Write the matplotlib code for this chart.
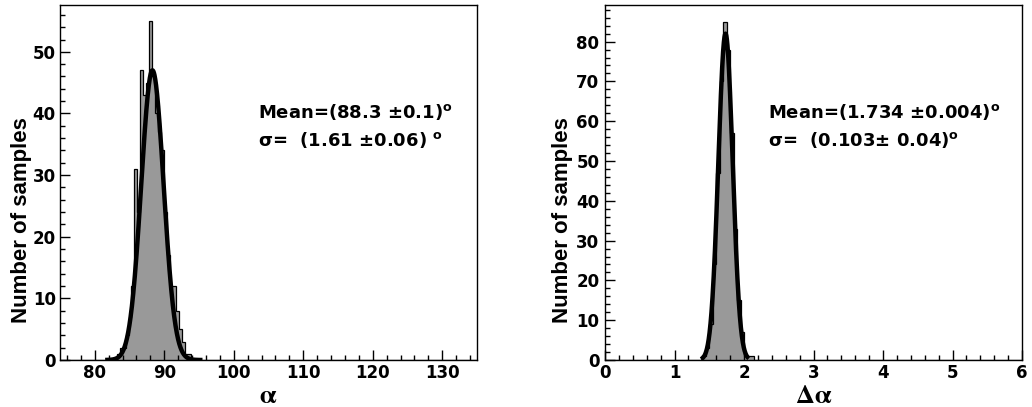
import numpy as np
import matplotlib
matplotlib.use("Agg")
import matplotlib.pyplot as plt
from matplotlib.ticker import MultipleLocator

# ---------------- data ----------------
# left panel: alpha histogram (140 bins over 75..135)
alpha_range = (75.0, 135.0)
alpha_nbins = 140
alpha_first_bin = 19
alpha_counts = [1, 2, 2, 4, 7, 12, 31, 24, 47, 43, 45, 55, 46, 40, 37, 34,
                24, 17, 12, 12, 8, 5, 3, 1, 1]
alpha_fit = dict(mean=88.3, sigma=1.61, amp=47.0, lo=81.5, hi=95.5)
alpha_text = ["Mean=(88.3 \u00b10.1)$^{\\mathrm{o}}$",
              "\u03c3=  (1.61 \u00b10.06) $^{\\mathrm{o}}$"]

# right panel: delta-alpha histogram (120 bins over 0..6)
dalpha_range = (0.0, 6.0)
dalpha_nbins = 120
dalpha_first_bin = 28
dalpha_counts = [1, 3, 9, 24, 47, 70, 85, 78, 57, 33, 15, 7, 1, 1, 1]
dalpha_fit = dict(mean=1.734, sigma=0.103, amp=82.0, lo=1.38, hi=2.07)
dalpha_text = ["Mean=(1.734 \u00b10.004)$^{\\mathrm{o}}$",
               "\u03c3=  (0.103\u00b1 0.04)$^{\\mathrm{o}}$"]

ylabel = "Number of samples"

# ---------------- style ----------------
plt.rcParams["font.family"] = ["DejaVu Sans"]
plt.rcParams["font.weight"] = "bold"
plt.rcParams["mathtext.fontset"] = "custom"
plt.rcParams["mathtext.rm"] = "DejaVu Sans:bold"
plt.rcParams["mathtext.it"] = "DejaVu Sans:bold"
plt.rcParams["mathtext.bf"] = "DejaVu Sans:bold"

W, H = 1032, 407
fig = plt.figure(figsize=(W / 100, H / 100), dpi=100)
axL = fig.add_axes([60 / W, 47 / H, 417 / W, 355 / H])
axR = fig.add_axes([605 / W, 47 / H, 417 / W, 355 / H])


def draw(ax, rng, nbins, first, counts, fit, ylim, xmaj, xmin, ymaj, ymin,
         texts, tx, xlabel, ylab_x, ylab_pad):
    edges = np.linspace(rng[0], rng[1], nbins + 1)
    full = np.zeros(nbins)
    full[first:first + len(counts)] = counts
    ax.stairs(full, edges, fill=True, color="#999999", zorder=1)
    ax.stairs(full, edges, color="black", lw=0.9, baseline=0, zorder=2)
    x = np.linspace(fit["lo"], fit["hi"], 500)
    y = fit["amp"] * np.exp(-0.5 * ((x - fit["mean"]) / fit["sigma"]) ** 2)
    ax.plot(x, y, color="black", lw=3.2, zorder=3, solid_capstyle="butt")

    ax.set_xlim(*rng)
    ax.set_ylim(*ylim)
    ax.xaxis.set_major_locator(MultipleLocator(xmaj))
    ax.xaxis.set_minor_locator(MultipleLocator(xmin))
    ax.yaxis.set_major_locator(MultipleLocator(ymaj))
    ax.yaxis.set_minor_locator(MultipleLocator(ymin))
    ax.tick_params(which="both", direction="in", top=False, right=False,
                   width=1.0, color="black")
    ax.tick_params(which="major", length=7.5, labelsize=12)
    ax.tick_params(which="minor", length=3.8)
    ax.tick_params(axis="x", which="major", pad=3.0)
    ax.tick_params(axis="y", which="major", pad=ylab_pad)
    for s in ax.spines.values():
        s.set_linewidth(1.0)

    ax.set_ylabel(ylabel, fontfamily=["Liberation Sans Narrow", "Liberation Sans"],
                  fontsize=16, fontweight="bold", va="center")
    ax.yaxis.set_label_coords(ylab_x, 0.394)
    ax.set_xlabel(xlabel, math_fontfamily="stix", fontsize=19,
                  fontweight="normal", va="baseline")
    ax.xaxis.set_label_coords(0.5, -0.121)

    ax.text(tx, 0.699, texts[0], transform=ax.transAxes, fontsize=13,
            fontweight="bold", va="center", ha="left")
    ax.text(tx, 0.620, texts[1], transform=ax.transAxes, fontsize=13,
            fontweight="bold", va="center", ha="left")


draw(axL, alpha_range, alpha_nbins, alpha_first_bin, alpha_counts, alpha_fit,
     (0, 57.6), 10, 2, 10, 2, alpha_text, 0.475, r"$\mathrm{\alpha}$", -0.092, 3)
draw(axR, dalpha_range, dalpha_nbins, dalpha_first_bin, dalpha_counts, dalpha_fit,
     (0, 89.2), 1, 0.2, 10, 2, dalpha_text, 0.391, r"$\mathrm{\Delta\alpha}$", -0.102, 4)

fig.savefig("out.png", dpi=100)
